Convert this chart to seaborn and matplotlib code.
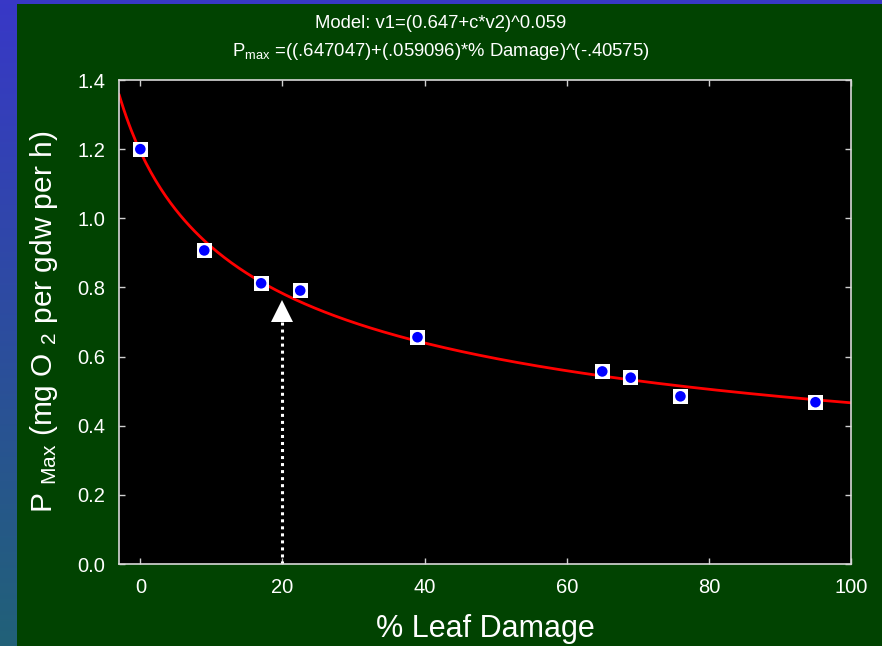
import numpy as np
import pandas as pd
import seaborn as sns
import matplotlib.pyplot as plt

# data
damage = [0, 9, 17, 22.5, 39, 65, 69, 76, 95]
pmax = [1.20, 0.907, 0.812, 0.791, 0.656, 0.557, 0.539, 0.485, 0.468]

# fitted model printed in the title: Pmax = (a + b*damage)^c
coef_a = 0.647047
coef_b = 0.059096
coef_c = -0.40575

arrow_x = 20
arrow_top = 0.732

x_ticks = [0, 20, 40, 60, 80, 100]
y_ticks = [0.0, 0.2, 0.4, 0.6, 0.8, 1.0, 1.2, 1.4]

df = pd.DataFrame({'damage': damage, 'pmax': pmax})
x_fit = np.linspace(-3, 100, 300)
fit = pd.DataFrame({'damage': x_fit, 'pmax': (coef_a + coef_b * x_fit) ** coef_c})

sns.set_theme(style='dark')
plt.rcParams['font.family'] = ['Liberation Sans', 'DejaVu Sans']
plt.rcParams['mathtext.fontset'] = 'custom'
plt.rcParams['mathtext.rm'] = 'Liberation Sans'
plt.rcParams['mathtext.it'] = 'Liberation Sans'

fig = plt.figure(figsize=(8.82, 6.46), dpi=100)

# blue gradient frame with green panel
bg = fig.add_axes([0, 0, 1, 1], zorder=-10)
grad = np.linspace(0, 1, 256).reshape(-1, 1)
top_col = np.array([0.22, 0.22, 0.78])
bot_col = np.array([0.13, 0.38, 0.47])
img = top_col + (bot_col - top_col) * grad[:, :, None]
bg.imshow(img, aspect='auto', extent=[0, 1, 0, 1], origin='upper')
bg.add_patch(plt.Rectangle((17 / 882, 0), 1, (646 - 4) / 646, color='#014301', lw=0))
bg.set_xlim(0, 1)
bg.set_ylim(0, 1)
bg.axis('off')

ax = fig.add_axes([119 / 882, 82 / 646, 732 / 882, 484 / 646])
ax.set_facecolor('black')

sns.lineplot(data=fit, x='damage', y='pmax', color='red', lw=2.0, ax=ax, zorder=2)
sns.scatterplot(data=df, x='damage', y='pmax', marker='s', s=120, color='white',
                edgecolor='none', ax=ax, zorder=3)
sns.scatterplot(data=df, x='damage', y='pmax', marker='o', s=58, color='#0000ff',
                edgecolor='none', ax=ax, zorder=4)

# arrow marking 20 % damage
ax.plot([arrow_x, arrow_x], [0, arrow_top - 0.03], color='white', lw=2.2,
        linestyle=(0, (1, 1.3)), zorder=2)
ax.plot([arrow_x], [arrow_top], marker='^', markersize=16, color='white',
        markeredgewidth=0, zorder=3)

ax.set_xlim(-3, 100)
ax.set_ylim(0, 1.4)
ax.set_xticks(x_ticks)
ax.set_yticks(y_ticks)
ax.set_yticklabels([f'{v:.1f}' for v in y_ticks])
ax.tick_params(direction='in', length=4, width=1, color='#d0d0d0',
               top=True, right=True, bottom=True, left=True,
               labelcolor='white', labelsize=14.5)
ax.tick_params(axis='x', pad=10)
ax.tick_params(axis='y', pad=10)
for s in ax.spines.values():
    s.set_color('#d8d8d8')
    s.set_linewidth(1.2)
ax.grid(False)

ax.set_xlabel('% Leaf Damage', color='white', fontsize=22, labelpad=12)
ax.set_ylabel(r'P $_{\mathrm{Max}}$ (mg O $_{2}$ per gdw per h)', color='white',
              fontsize=21.5, labelpad=12)

fig.text(0.5, 0.963, 'Model: v1=(0.647+c*v2)^0.059', color='white',
         fontsize=13.3, ha='center', va='center')
fig.text(0.5, 0.921, r'P$_{\mathrm{max}}$ =((.647047)+(.059096)*% Damage)^(-.40575)',
         color='white', fontsize=13.3, ha='center', va='center')

fig.savefig('out.png', dpi=100, facecolor=fig.get_facecolor())
